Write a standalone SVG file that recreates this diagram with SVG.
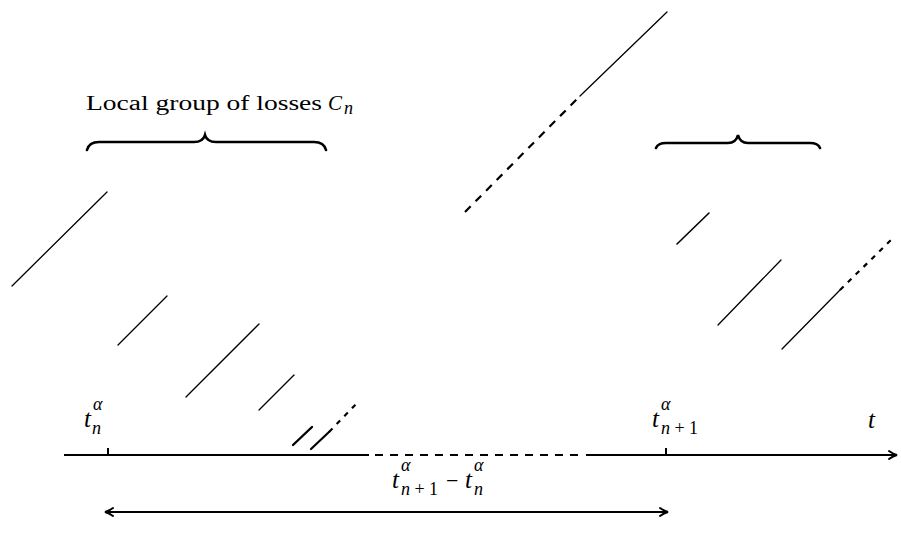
<svg xmlns="http://www.w3.org/2000/svg" width="901" height="544" viewBox="0 0 901 544">
<style>
.ln{stroke:#000;stroke-width:1.3;fill:none;stroke-linecap:round}
.dl{stroke:#000;stroke-width:2.2;fill:none;stroke-dasharray:8 7}
.ds{stroke:#000;stroke-width:2.2;fill:none;stroke-dasharray:5 6}
.ax{stroke:#000;stroke-width:2;fill:none}
.br{stroke:#000;stroke-width:2.6;fill:none;stroke-linecap:round}
.ah{stroke:#000;stroke-width:2;fill:none;stroke-linecap:round}
text{font-family:"Liberation Serif","Times New Roman",serif;fill:#000}
.m{font-style:italic}
.big{font-size:25px}
.sm{font-size:18px}
</style>
<rect width="901" height="544" fill="#fff"/>
<g id="label-group">
<text x="86" y="110" font-size="20" font-family="DejaVu Serif" textLength="236" lengthAdjust="spacingAndGlyphs">Local group of losses</text>
<text x="328" y="110" font-size="21" class="m" font-family="DejaVu Serif">C</text>
<text x="344" y="114" class="sm m">n</text>
</g>
<g id="brace-left"><path class="br" d="M87,150 Q89,142 99,142 L194,142 Q203,142 205,135 Q207,142 216,142 L314,142 Q324,142 326,150"/></g>
<g id="brace-right"><path class="br" d="M656,148 Q658,143 666,143 L728,143 Q736,143 738,135 Q740,143 748,143 L810,143 Q818,143 820,148"/></g>
<g id="losses">
<line class="ln" x1="12" y1="286" x2="107" y2="192"/>
<line class="ln" x1="118" y1="345" x2="167" y2="296"/>
<line class="ln" x1="186" y1="397" x2="259" y2="324"/>
<line class="ln" x1="259" y1="410" x2="294" y2="375"/>
<line class="ln" x1="293" y1="445" x2="312" y2="427" style="stroke-width:2.4"/>
<line class="ln" x1="311" y1="449" x2="329" y2="432" style="stroke-width:2.2"/>
<line class="ds" x1="329" y1="432" x2="359" y2="401"/>
<line class="dl" x1="465" y1="212" x2="580" y2="96"/>
<line class="ln" x1="580" y1="96" x2="667" y2="12"/>
<line class="ln" x1="677" y1="244" x2="709" y2="213" style="stroke-width:1.6"/>
<line class="ln" x1="718" y1="325" x2="781" y2="260"/>
<line class="ln" x1="782" y1="349" x2="840" y2="290"/>
<line class="ds" x1="840" y1="290" x2="894" y2="237"/>
</g>
<g id="axis">
<line class="ax" x1="64" y1="455" x2="369" y2="455"/>
<line class="ax" x1="375" y1="455" x2="580" y2="455" stroke-dasharray="8 7"/>
<line class="ax" x1="586" y1="455" x2="896" y2="455"/>
<path class="ah" d="M889,451 Q893,454 897,455 Q893,456 889,459"/>
<line class="ax" x1="108" y1="448" x2="108" y2="455"/>
<line class="ax" x1="666" y1="448" x2="666" y2="455"/>
</g>
<g id="tick-labels">
<text x="84" y="427" class="big m">t</text>
<text x="93" y="410" class="sm m">α</text>
<text x="92" y="434" class="sm m">n</text>
<text x="652" y="427" class="big m">t</text>
<text x="661" y="410" class="sm m">α</text>
<text x="661" y="434" class="sm" textLength="37"><tspan class="m">n</tspan>+1</text>
<text x="868" y="428" class="big m">t</text>
</g>
<g id="span">
<line class="ax" x1="107" y1="512" x2="666" y2="512"/>
<path class="ah" d="M113,508 Q109,511 105,512 Q109,513 113,516"/>
<path class="ah" d="M660,508 Q664,511 668,512 Q664,513 660,516"/>
<text x="392" y="488" class="big m">t</text>
<text x="401" y="471" class="sm m">α</text>
<text x="401" y="495" class="sm" textLength="37"><tspan class="m">n</tspan>+1</text>
<text x="446" y="488" font-size="22">−</text>
<text x="465" y="488" class="big m">t</text>
<text x="474" y="471" class="sm m">α</text>
<text x="474" y="495" class="sm m">n</text>
</g>
</svg>
